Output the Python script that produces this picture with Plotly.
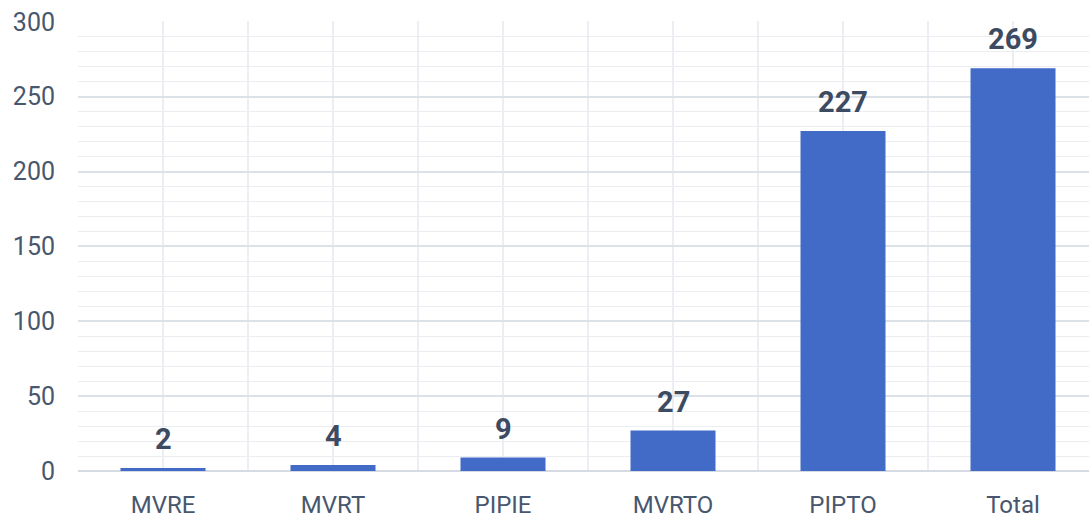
import plotly.graph_objects as go

categories = ["MVRE", "MVRT", "PIPIE", "MVRTO", "PIPTO", "Total"]
values = [2, 4, 9, 27, 227, 269]
y_ticks = [0, 50, 100, 150, 200, 250, 300]

xpos = list(range(len(categories)))

fig = go.Figure()
fig.add_trace(go.Bar(
    x=xpos, y=values, width=0.5,
    marker=dict(color="#416bc6", line=dict(width=0)),
    hoverinfo="skip",
))

for xi, v in zip(xpos, values):
    fig.add_annotation(
        x=xi, y=v, text=f"<b>{v}</b>", showarrow=False,
        yanchor="bottom", yshift=10,
        font=dict(family="Roboto", size=29, color="#3c4a62"),
    )

fig.update_layout(
    width=1089, height=518,
    margin=dict(l=78, r=0, t=21, b=47),
    paper_bgcolor="white", plot_bgcolor="white",
    showlegend=False, bargap=0.5,
    font=dict(family="Roboto", color="#4b5a6f"),
)
fig.update_xaxes(
    range=[-0.5, 5.447],
    tickmode="array", tickvals=xpos, ticktext=categories,
    tickfont=dict(size=24, color="#48576d"),
    showgrid=True, gridcolor="#eceef3", gridwidth=2,
    minor=dict(tickmode="linear", tick0=-0.5, dtick=1, showgrid=True,
               gridcolor="#eceef3", gridwidth=2),
    showline=False, zeroline=False, ticks="", ticklabelstandoff=17,
)
fig.update_yaxes(
    range=[0, 300.5],
    tickmode="array", tickvals=y_ticks,
    tickfont=dict(size=25, color="#48576d"),
    showgrid=True, gridcolor="#dde1e8", gridwidth=2,
    minor=dict(tickmode="linear", tick0=0, dtick=10, showgrid=True,
               gridcolor="#ebedf1", gridwidth=1),
    zeroline=True, zerolinecolor="#d6dae2", zerolinewidth=2,
    showline=False, ticks="", ticklabelstandoff=22,
)

fig.write_html("out.html")
